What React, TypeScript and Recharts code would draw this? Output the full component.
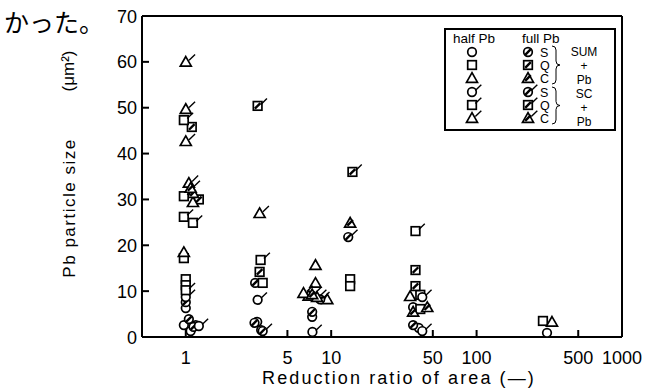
import React from 'react';
import { ScatterChart, Scatter, XAxis, YAxis, ReferenceLine } from 'recharts';

// x: reduction ratio of area, y: Pb particle size (um^2)
const xTicks = [1, 5, 10, 50, 100, 500, 1000];
const yTicks = [0, 10, 20, 30, 40, 50, 60, 70];

// SUM + Pb
const halfSumS: [number, number][] = [[1.0, 6.3], [0.97, 2.6], [1.08, 1.3], [1.17, 2.6], [3.1, 3.3], [3.3, 1.5], [7.4, 4.4], [36.6, 6.5], [40, 2.0], [305, 0.9]];
const fullSumS: [number, number][] = [[1.05, 3.9], [1.0, 7.6], [1.13, 2.2], [3.0, 11.8], [7.4, 5.5], [36.6, 2.6], [2.97, 3.1]];
const halfSumQ: [number, number][] = [[1.0, 12.6], [1.0, 11.3], [0.97, 17.2], [3.38, 11.8], [13.5, 12.6], [13.5, 11.1], [41, 9.2], [41, 6.1], [286, 3.5]];
const fullSumQ: [number, number][] = [[1.1, 45.8], [1.23, 30], [3.22, 14.2], [38, 14.6], [38, 11.1]];
const halfSumC: [number, number][] = [[0.97, 18.5], [1.12, 29.4], [7.8, 15.7], [7.8, 11.8], [34.9, 8.9], [330, 3.3], [9.4, 8.2]];
const fullSumC: [number, number][] = [[1.12, 31.4], [45.8, 6.5], [13.5, 24.9], [7.0, 9.0], [36.6, 5.5]];

// SC + Pb
const halfScS: [number, number][] = [[1.0, 8.7], [1.23, 2.4], [3.12, 8.1], [7.43, 1.1], [42.3, 8.7], [42.3, 1.3]];
const fullScS: [number, number][] = [[13.1, 21.8], [3.38, 1.3], [8.4, 8.2]];
const halfScQ: [number, number][] = [[0.97, 47.3], [0.97, 30.7], [0.97, 26.2], [1.12, 24.9], [1.0, 10.2], [3.27, 16.8], [38, 23.1]];
const fullScQ: [number, number][] = [[3.12, 50.4], [14, 36]];
const halfScC: [number, number][] = [[1.0, 60], [1.0, 49.7], [1.0, 42.7], [1.05, 33.6], [3.22, 27], [6.45, 9.6], [8.0, 8.7]];
const fullScC: [number, number][] = [[1.08, 32.5], [7.4, 9.3]];

type Kind = 'S' | 'Q' | 'C';

const toPts = (arr: [number, number][]) => arr.map(([x, y]) => ({ x, y }));

const drawMark = (kind: Kind, full: boolean, sc: boolean, cx: number, cy: number) => {
  const r = 4.3;
  let body;
  if (kind === 'S') {
    body = <circle cx={cx} cy={cy} r={r} fill="#fff" stroke="#000" strokeWidth={1.7} />;
  } else if (kind === 'Q') {
    body = <rect x={cx - r} y={cy - r} width={r * 2} height={r * 2} fill="#fff" stroke="#000" strokeWidth={1.7} />;
  } else {
    body = (
      <polygon
        points={`${cx},${cy - r - 1} ${cx + r + 1.2},${cy + r} ${cx - r - 1.2},${cy + r}`}
        fill="#fff"
        stroke="#000"
        strokeWidth={1.7}
      />
    );
  }
  return (
    <g>
      {body}
      {full && <line x1={cx - 2.8} y1={cy + 2.8} x2={cx + 2.8} y2={cy - 2.8} stroke="#000" strokeWidth={2.4} />}
      {sc && <line x1={cx + r - 1} y1={cy - 1.5} x2={cx + r + 5} y2={cy - r - 3} stroke="#000" strokeWidth={1.4} />}
    </g>
  );
};

const seriesList: { name: string; data: [number, number][]; kind: Kind; full: boolean; sc: boolean }[] = [
  { name: 'half S SUM', data: halfSumS, kind: 'S', full: false, sc: false },
  { name: 'full S SUM', data: fullSumS, kind: 'S', full: true, sc: false },
  { name: 'half Q SUM', data: halfSumQ, kind: 'Q', full: false, sc: false },
  { name: 'full Q SUM', data: fullSumQ, kind: 'Q', full: true, sc: false },
  { name: 'half C SUM', data: halfSumC, kind: 'C', full: false, sc: false },
  { name: 'full C SUM', data: fullSumC, kind: 'C', full: true, sc: false },
  { name: 'half S SC', data: halfScS, kind: 'S', full: false, sc: true },
  { name: 'full S SC', data: fullScS, kind: 'S', full: true, sc: true },
  { name: 'half Q SC', data: halfScQ, kind: 'Q', full: false, sc: true },
  { name: 'full Q SC', data: fullScQ, kind: 'Q', full: true, sc: true },
  { name: 'half C SC', data: halfScC, kind: 'C', full: false, sc: true },
  { name: 'full C SC', data: fullScC, kind: 'C', full: true, sc: true },
];

const font = '"Liberation Sans", Arial, sans-serif';

// ticks point inward, drawn together with their label
const XTick = (p: any) => (
  <g>
    <line x1={p.x} y1={p.y - 14} x2={p.x} y2={p.y - 21} stroke="#000" strokeWidth={2} />
    <text x={p.x} y={p.y + 13} textAnchor="middle" fontSize={18} fontFamily={font} fill="#000">
      {p.payload.value}
    </text>
  </g>
);

const YTick = (p: any) => (
  <g>
    <line x1={p.x + 5} y1={p.y} x2={p.x + 12} y2={p.y} stroke="#000" strokeWidth={2} />
    <text x={p.x} y={p.y + 6.5} textAnchor="end" fontSize={18} fontFamily={font} fill="#000">
      {p.payload.value}
    </text>
  </g>
);

const Legend = () => {
  const rows: { kind: Kind; sc: boolean; letter: string; y: number }[] = [
    { kind: 'S', sc: false, letter: 'S', y: 52 },
    { kind: 'Q', sc: false, letter: 'Q', y: 65 },
    { kind: 'C', sc: false, letter: 'C', y: 78 },
    { kind: 'S', sc: true, letter: 'S', y: 92 },
    { kind: 'Q', sc: true, letter: 'Q', y: 105 },
    { kind: 'C', sc: true, letter: 'C', y: 118 },
  ];
  const brace = (y0: number, y1: number) => {
    const m = (y0 + y1) / 2;
    return `M 552 ${y0} Q 556 ${y0} 556 ${y0 + 4} L 556 ${m - 4} Q 556 ${m} 560 ${m} Q 556 ${m} 556 ${m + 4} L 556 ${y1 - 4} Q 556 ${y1} 552 ${y1}`;
  };
  return (
    <g fontFamily={font} fill="#000">
      <rect x={445} y={29} width={170} height={101} fill="#fff" stroke="#000" strokeWidth={2} />
      <text x={453} y={43} fontSize={13.5}>half Pb</text>
      <text x={522} y={43} fontSize={13.5}>full Pb</text>
      {rows.map((r, i) => (
        <g key={i}>
          {drawMark(r.kind, false, r.sc, 472, r.y)}
          {drawMark(r.kind, true, r.sc, 528, r.y)}
          <text x={540} y={r.y + 4.5} fontSize={12.5}>{r.letter}</text>
        </g>
      ))}
      <path d={brace(46, 84)} fill="none" stroke="#000" strokeWidth={1} />
      <path d={brace(87, 124)} fill="none" stroke="#000" strokeWidth={1} />
      <text x={584} y={56} fontSize={12} textAnchor="middle">SUM</text>
      <text x={584} y={70} fontSize={12} textAnchor="middle">+</text>
      <text x={584} y={84} fontSize={12} textAnchor="middle">Pb</text>
      <text x={584} y={98} fontSize={12} textAnchor="middle">SC</text>
      <text x={584} y={112} fontSize={12} textAnchor="middle">+</text>
      <text x={584} y={126} fontSize={12} textAnchor="middle">Pb</text>
    </g>
  );
};

export default function App() {
  return (
    <div style={{ position: 'absolute', left: 0, top: 0, width: 647, height: 389, background: '#fff' }}>
      <ScatterChart width={647} height={389} margin={{ top: 16, right: 25, bottom: 0, left: 0 }}>
        <XAxis
          dataKey="x"
          type="number"
          scale="log"
          domain={[0.5, 1000]}
          ticks={xTicks}
          allowDataOverflow
          height={52}
          axisLine={{ stroke: '#000', strokeWidth: 2 }}
          tickLine={false}
          tickSize={0}
          tickMargin={14}
          tick={<XTick />}
        />
        <YAxis
          dataKey="y"
          type="number"
          domain={[0, 70]}
          ticks={yTicks}
          width={142}
          axisLine={{ stroke: '#000', strokeWidth: 2 }}
          tickLine={false}
          tickSize={0}
          tickMargin={5}
          tick={<YTick />}
        />
        <ReferenceLine y={70} stroke="#000" strokeWidth={2} />
        <ReferenceLine x={1000} stroke="#000" strokeWidth={2} />
        {seriesList.map((s) => (
          <Scatter
            key={s.name}
            name={s.name}
            data={toPts(s.data)}
            isAnimationActive={false}
            shape={(p: any) => drawMark(s.kind, s.full, s.sc, p.cx, p.cy)}
          />
        ))}
      </ScatterChart>
      <svg width={647} height={389} style={{ position: 'absolute', left: 0, top: 0, pointerEvents: 'none' }}>
        <text x={4} y={32} fontSize={25} fontFamily='"Noto Sans CJK JP", sans-serif' fill="#000">かった。</text>
        <text
          x={0}
          y={0}
          transform="translate(74,71) rotate(-90)"
          textAnchor="middle"
          fontSize={17}
          fontFamily={font}
          fill="#000"
        >
          (μm²)
        </text>
        <text
          x={0}
          y={0}
          transform="translate(75,208) rotate(-90)"
          textAnchor="middle"
          fontSize={17}
          letterSpacing={1.5}
          fontFamily={font}
          fill="#000"
        >
          Pb particle size
        </text>
        <text x={399} y={384} textAnchor="middle" fontSize={18} letterSpacing={2.1} fontFamily={font} fill="#000">
          Reduction ratio of area (—)
        </text>
        <Legend />
      </svg>
    </div>
  );
}
